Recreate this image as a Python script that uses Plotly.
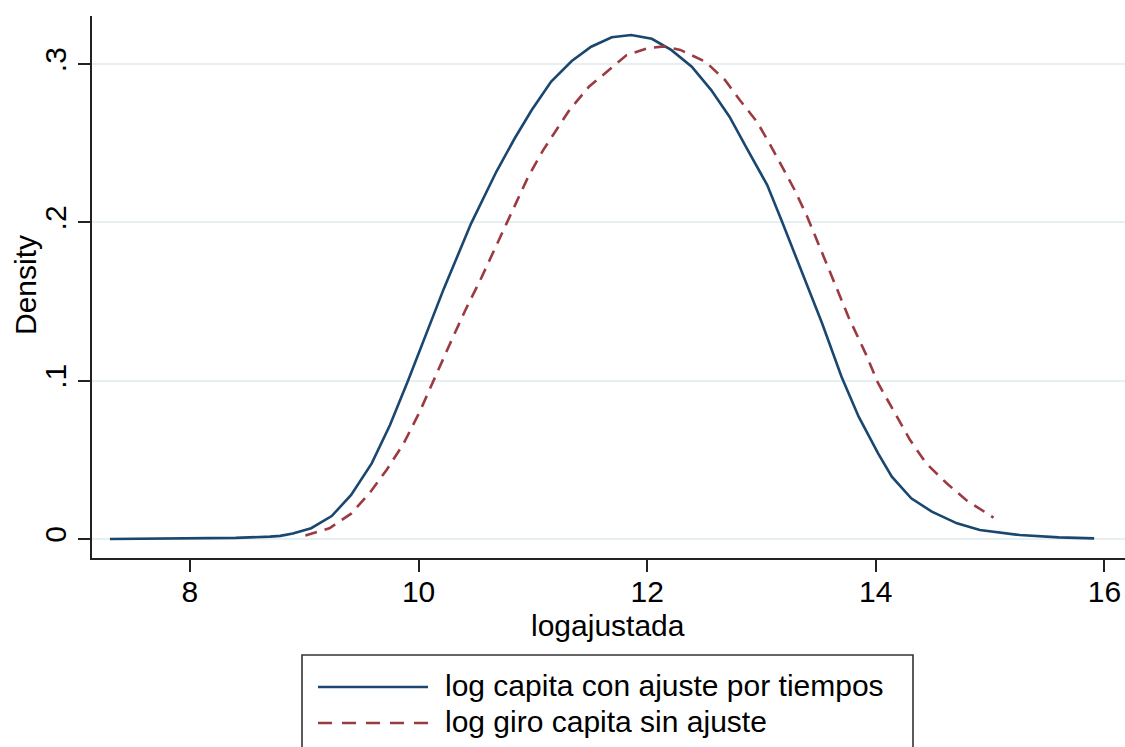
import plotly.graph_objects as go

# Kernel density estimates of log per-capita turnover
dens_adj_x = [7.30, 7.60, 8.00, 8.40, 8.70, 8.79, 8.90, 9.06, 9.24, 9.41, 9.59, 9.75,
              9.91, 10.07, 10.22, 10.46, 10.68, 10.84, 10.99, 11.16, 11.34, 11.51,
              11.69, 11.86, 12.04, 12.21, 12.39, 12.56, 12.72, 12.88, 13.05, 13.18,
              13.40, 13.53, 13.70, 13.85, 14.02, 14.14, 14.31, 14.49, 14.71, 14.91,
              15.26, 15.60, 15.91]
dens_adj_y = [0.0000, 0.0001, 0.0003, 0.0007, 0.0015, 0.0020, 0.0035, 0.0068, 0.0145,
              0.0278, 0.0478, 0.0720, 0.1004, 0.1300, 0.1580, 0.1994, 0.2320, 0.2530,
              0.2710, 0.2890, 0.3020, 0.3110, 0.3170, 0.3184, 0.3160, 0.3090, 0.2984,
              0.2836, 0.2668, 0.2457, 0.2236, 0.2004, 0.1594, 0.1363, 0.1025, 0.0773,
              0.0541, 0.0394, 0.0257, 0.0173, 0.0099, 0.0057, 0.0025, 0.0010, 0.0004]

dens_raw_x = [9.01, 9.22, 9.41, 9.57, 9.72, 9.87, 10.01, 10.13, 10.27, 10.41, 10.54,
              10.77, 10.96, 11.09, 11.32, 11.49, 11.66, 11.82, 12.00, 12.15, 12.29,
              12.51, 12.68, 12.81, 12.96, 13.07, 13.18, 13.29, 13.40, 13.51, 13.61,
              13.76, 13.91, 14.02, 14.15, 14.30, 14.44, 14.62, 14.79, 15.03]
dens_raw_y = [0.0022, 0.0068, 0.0160, 0.0289, 0.0436, 0.0604, 0.0804, 0.1004, 0.1226,
              0.1447, 0.1636, 0.1994, 0.2290, 0.2457, 0.2710, 0.2857, 0.2960, 0.3057,
              0.3100, 0.3112, 0.3090, 0.3015, 0.2900, 0.2773, 0.2636, 0.2499, 0.2352,
              0.2205, 0.2036, 0.1847, 0.1668, 0.1404, 0.1173, 0.0984, 0.0815, 0.0625,
              0.0478, 0.0352, 0.0246, 0.0135]

series_names = ["log capita con ajuste por tiempos", "log giro capita sin ajuste"]
x_ticks = [8, 10, 12, 14, 16]
y_ticks = [0, 0.1, 0.2, 0.3]
y_tick_text = ["0", ".1", ".2", ".3"]

BLUE = "#1a476f"
RED = "#9c3a41"
FONT = "Liberation Sans, Arial, Helvetica, sans-serif"
FS = 30

W, H = 1125, 747
ML, MR, MT, MB = 92, 0, 16, 189
PW, PH = W - ML - MR, H - MT - MB


def px(xp):
    return (xp - ML) / PW


def py(yp):
    return (H - MB - yp) / PH


fig = go.Figure()
fig.add_trace(go.Scatter(x=dens_adj_x, y=dens_adj_y, mode="lines", name=series_names[0],
                         line=dict(color=BLUE, width=2.6), showlegend=False))
fig.add_trace(go.Scatter(x=dens_raw_x, y=dens_raw_y, mode="lines", name=series_names[1],
                         line=dict(color=RED, width=2.6, dash="12px,8px"), showlegend=False))

# Legend box drawn below the plot area
shapes = [
    dict(type="rect", xref="paper", yref="paper", x0=px(302), x1=px(913), y0=py(655), y1=py(770),
         line=dict(color="#333333", width=1.6), fillcolor="rgba(0,0,0,0)", layer="above"),
    dict(type="line", xref="paper", yref="paper", x0=px(318), x1=px(428), y0=py(687), y1=py(687),
         line=dict(color=BLUE, width=2.6)),
    dict(type="line", xref="paper", yref="paper", x0=px(318), x1=px(428), y0=py(723), y1=py(723),
         line=dict(color=RED, width=2.6, dash="14px,10px")),
]
annotations = [
    dict(text=series_names[0], xref="paper", yref="paper", x=px(443), y=py(685),
         xanchor="left", yanchor="middle", showarrow=False, font=dict(size=FS, color="black")),
    dict(text=series_names[1], xref="paper", yref="paper", x=px(443), y=py(721),
         xanchor="left", yanchor="middle", showarrow=False, font=dict(size=FS, color="black")),
    dict(text="logajustada", xref="paper", yref="paper", x=px(608), y=py(625),
         xanchor="center", yanchor="middle", showarrow=False, font=dict(size=FS, color="black")),
    dict(text="Density", xref="paper", yref="paper", x=px(25), y=py(285), textangle=-90,
         xanchor="center", yanchor="middle", showarrow=False, font=dict(size=FS, color="black")),
]

fig.update_layout(
    width=W, height=H,
    margin=dict(l=ML, r=MR, t=MT, b=MB, pad=0),
    paper_bgcolor="white", plot_bgcolor="white",
    font=dict(family=FONT, size=FS, color="black"),
    shapes=shapes, annotations=annotations,
    showlegend=False,
)
fig.update_xaxes(
    range=[7.143, 16.18], tickvals=x_ticks, ticks="outside", ticklen=12, tickwidth=1.6,
    tickcolor="#222222", showline=True, linecolor="#222222", linewidth=1.6,
    showgrid=False, zeroline=False, tickfont=dict(size=FS), ticklabelstandoff=-6,
)
fig.update_yaxes(
    range=[-0.0120, 0.3304], tickvals=y_ticks, ticktext=y_tick_text, tickangle=-90,
    ticks="outside", ticklen=12, tickwidth=1.6, tickcolor="#222222",
    showline=True, linecolor="#222222", linewidth=1.6,
    showgrid=True, gridcolor="#e6eff1", gridwidth=1.6, zeroline=False, tickfont=dict(size=FS),
)

fig.write_html("out.html")
